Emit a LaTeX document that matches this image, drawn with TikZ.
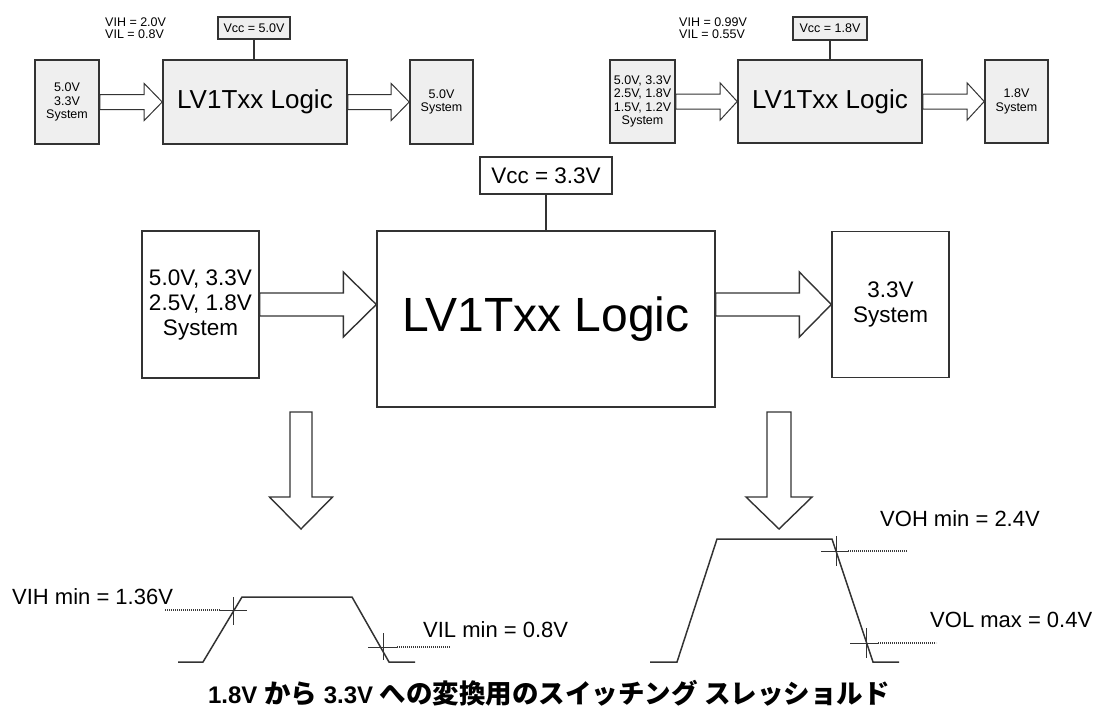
\documentclass[tikz,border=0pt]{standalone}
\usepackage{fontspec}
\setmainfont{Liberation Sans}
\newfontfamily\jpfont{Noto Sans CJK JP}
\usepackage{xcolor}
\usetikzlibrary{calc}
\definecolor{linegray}{HTML}{333333}
\definecolor{boxgray}{HTML}{EFEFEF}
\definecolor{dotgray}{HTML}{3A3A3A}
\tikzset{
    tnode/.style = {align=center, inner sep=0pt, text centered},
    small_box/.style = {tnode, rectangle, draw=linegray, fill=boxgray, line width=1.6pt, font=\fontsize{12.5}{13.5}\selectfont},
    small_logic/.style = {small_box, font=\fontsize{26}{28}\selectfont},
    small_vcc/.style = {small_box, line width=1.3pt, font=\fontsize{12.5}{13.5}\selectfont},
    big_box/.style = {tnode, rectangle, draw=linegray, fill=white, line width=1.4pt, font=\fontsize{22.5}{25}\selectfont},
    big_logic/.style = {big_box, font=\fontsize{48}{52}\selectfont},
    level_text/.style = {tnode, align=left, anchor=west, font=\fontsize{12.5}{12.5}\selectfont},
    spec_text/.style = {tnode, anchor=west, font=\fontsize{22}{24}\selectfont},
    jp_text/.style = {font=\jpfont\fontsize{26.5}{28}\selectfont\bfseries}
}
\tikzset{
    fat_line/.style = {draw=linegray, line width=1pt, line join=miter},
    fat_big/.style = {fat_line, line width=1.4pt},
    wave_line/.style = {draw=linegray, line width=1.5pt},
    tick_line/.style = {draw=linegray, line width=0.8pt},
    dot_line/.style = {draw=dotgray, line width=1.3pt, dash pattern=on 1.3pt off 0.7pt}
}
\newcommand{\fatarrow}[6]{%
    \coordinate (fa_base) at ($(#2)!#5!(#1)$);
    \draw[#6] ($(#1)!#3!90:(#2)$) -- ($(fa_base)!#3!90:(#2)$) -- ($(fa_base)!#4!90:(#2)$) -- (#2)
        -- ($(fa_base)!#4!-90:(#2)$) -- ($(fa_base)!#3!-90:(#2)$) -- ($(#1)!#3!-90:(#2)$) -- cycle;
}
\newcommand{\jp}[1]{{\jpfont\fontsize{26.5}{28}\selectfont\bfseries #1}}

\begin{document}
\begin{tikzpicture}[x=1pt, y=-1pt]
    \useasboundingbox (0,0) rectangle (1099,713);

    % 5.0V side
    \node [small_box, minimum width=64, minimum height=84] (sysA) at (67,102) {5.0V\\3.3V\\System};
    \node [small_logic, minimum width=184, minimum height=84] (logicA) at (255,102) {LV1Txx Logic};
    \node [small_vcc, minimum width=72, minimum height=22] (vccA) at (254,28) {Vcc = 5.0V};
    \node [small_box, minimum width=63, minimum height=84] (outA) at (441.5,102) {5.0V\\System};
    \node [level_text] (levelA) at (105,28) {VIH = 2.0V\\VIL = 0.8V};
    \draw [tick_line, line width=1.2pt] (vccA) -- (vccA |- logicA.north);
    \fatarrow{sysA.east}{logicA.west}{7.5pt}{18.5pt}{18pt}{fat_line}
    \fatarrow{logicA.east}{outA.west}{7.5pt}{18.5pt}{18pt}{fat_line}

    % 1.8V side
    \node [small_box, minimum width=65, minimum height=83] (sysB) at (642.5,101.5) {5.0V, 3.3V\\2.5V, 1.8V\\1.5V, 1.2V\\System};
    \node [small_logic, minimum width=184, minimum height=83] (logicB) at (830,101.5) {LV1Txx Logic};
    \node [small_vcc, minimum width=74, minimum height=23] (vccB) at (830,28.5) {Vcc = 1.8V};
    \node [small_box, minimum width=63, minimum height=83] (outB) at (1016.5,101.5) {1.8V\\System};
    \node [level_text] (levelB) at (679,28) {VIH = 0.99V\\VIL = 0.55V};
    \draw [tick_line, line width=1.2pt] (vccB) -- (vccB |- logicB.north);
    \fatarrow{sysB.east}{logicB.west}{7.5pt}{18.5pt}{17pt}{fat_line}
    \fatarrow{logicB.east}{outB.west}{7.5pt}{18.5pt}{17pt}{fat_line}

    % 3.3V device
    \node [big_box, minimum width=117, minimum height=147] (sysC) at (200.5,304.5) {5.0V, 3.3V\\2.5V, 1.8V\\System};
    \node [big_logic, minimum width=338, minimum height=176] (logicC) at (546,319) {LV1Txx Logic};
    \node [big_box, minimum width=132, minimum height=37] (vccC) at (546,175.5) {Vcc = 3.3V};
    \node [big_box, minimum width=117, minimum height=146] (outC) at (890.5,304.5) {3.3V\\System};
    \draw [fat_big] (vccC) -- (logicC);
    \coordinate (inC) at (logicC.west |- sysC.east);
    \coordinate (outC_from) at (logicC.east |- outC.west);
    \fatarrow{sysC.east}{inC}{11.5pt}{32.5pt}{33pt}{fat_big}
    \fatarrow{outC_from}{outC.west}{11.5pt}{32.5pt}{32pt}{fat_big}

    % input and output levels
    \coordinate (downA_top) at (301,412);
    \coordinate (downA_tip) at (301,529);
    \coordinate (downB_top) at (779,412);
    \coordinate (downB_tip) at (779,529);
    \fatarrow{downA_top}{downA_tip}{11pt}{31.5pt}{32pt}{fat_big}
    \fatarrow{downB_top}{downB_tip}{12pt}{33pt}{32pt}{fat_big}

    \draw [wave_line] (178,662) -- (203,662) -- (242,597) -- (352,597) -- (389,662) -- (415,662);
    \draw [tick_line] (220,610) -- (247,610) (233,597) -- (233,625);
    \draw [tick_line] (368,647) -- (397,647) (383,633) -- (383,660);
    \draw [dot_line] (165,610) -- (220,610);
    \draw [dot_line] (397,647) -- (450,647);
    \node [spec_text] (vih) at (12,597) {VIH min = 1.36V};
    \node [spec_text] (vil) at (423,630) {VIL min = 0.8V};

    \draw [wave_line] (650,662) -- (677,662) -- (717,539) -- (832,539) -- (873,662) -- (899,662);
    \draw [tick_line] (821,551) -- (848,551) (836,536) -- (836,566);
    \draw [tick_line] (850,643) -- (878,643) (866,628) -- (866,658);
    \draw [dot_line] (848,551) -- (907,551);
    \draw [dot_line] (878,643) -- (936,643);
    \node [spec_text] (voh) at (880,519) {VOH min = 2.4V};
    \node [spec_text] (vol) at (930,620) {VOL max = 0.4V};

    \node [tnode, font=\fontsize{24}{26}\selectfont\bfseries] (caption) at (549,693)
        {1.8V \jp{から} 3.3V \jp{への変換用のスイッチング} \jp{スレッショルド}};
\end{tikzpicture}
\end{document}
